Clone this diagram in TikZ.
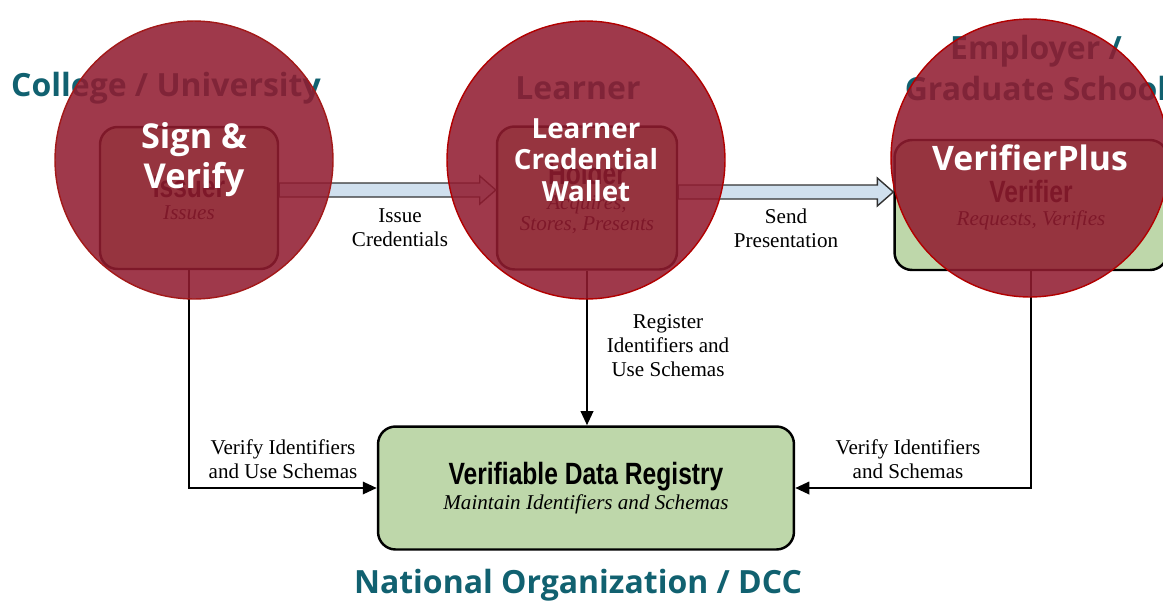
\documentclass[tikz,border=0pt]{standalone}
\usepackage{fontspec}
\setmainfont{Liberation Serif}
\newfontfamily\opensans{Open Sans}
\newfontfamily\narrowsans[FakeStretch=0.8]{Liberation Sans}
\usetikzlibrary{calc,arrows.meta}

\definecolor{boxgreen}{RGB}{190,215,170}
\definecolor{arrowblue}{RGB}{208,224,238}
\definecolor{titleteal}{RGB}{17,97,112}
\definecolor{circlered}{RGB}{145,28,48}

\tikzset{
  role/.style={draw=black,line width=1.4pt,rounded corners=10pt,fill=boxgreen,align=center},
  flowlabel/.style={align=center,font=\fontsize{12}{13.6}\selectfont},
  place/.style={text=titleteal,align=center,font=\opensans\bfseries\fontsize{18.2}{23.8}\selectfont},
  product/.style={circle,fill=circlered,fill opacity=0.87,text opacity=1,draw,line width=0.8pt,text=white,
    align=center,minimum size=5.56cm,inner sep=0pt,font=\opensans\bfseries},
  link/.style={draw=black,line width=1.4pt,-{Triangle[length=8pt,width=7pt]}},
  blockarrow/.style={draw=black!80,line width=0.8pt,fill=arrowblue}
}

\begin{document}
\begin{tikzpicture}[x=0.02cm,y=-0.02cm]

  \path[use as bounding box,clip] (0,0) rectangle (1163,606);

  \begin{scope}[every node/.style={role}]
    \node[minimum width=3.56cm,minimum height=2.84cm] (issuer) at (189,198)
      {\textbf{\narrowsans\fontsize{17.5}{19}\selectfont Issuer}\\[1pt] \fontsize{12}{14}\selectfont\itshape Issues};
    \node[minimum width=3.6cm,minimum height=2.86cm] (holder) at (587,198)
      {\textbf{\narrowsans\fontsize{17.5}{19}\selectfont Holder}\\[2pt] \fontsize{12}{14}\selectfont\itshape Acquires,\\ \fontsize{12}{14}\selectfont\itshape Stores, Presents};
    \node[minimum width=5.46cm,minimum height=2.6cm] (verifier) at (1031,205)
      {\textbf{\narrowsans\fontsize{17.5}{19}\selectfont Verifier}\\[1pt] \fontsize{12}{14}\selectfont\itshape Requests, Verifies};
    \node[minimum width=8.32cm,minimum height=2.46cm] (registry) at (586,488)
      {\textbf{\narrowsans\fontsize{17.5}{19}\selectfont Verifiable Data Registry}\\[1pt] \fontsize{12}{14}\selectfont\itshape Maintain Identifiers and Schemas};
  \end{scope}

  \coordinate (a1) at ($(issuer.east)+(0,-8)$);
  \coordinate (a2) at (holder.west |- a1);
  \coordinate (b1) at ($(holder.east)+(0,-6)$);
  \coordinate (b2) at (verifier.west |- b1);

  \draw[blockarrow] ($(a1)+(0,-7)$) -- ($(a2)+(-16,-7)$) -- ($(a2)+(-16,-14)$) -- (a2)
    -- ($(a2)+(-16,14)$) -- ($(a2)+(-16,7)$) -- ($(a1)+(0,7)$) -- cycle;
  \draw[blockarrow] ($(b1)+(0,-7)$) -- ($(b2)+(-16,-7)$) -- ($(b2)+(-16,-14)$) -- (b2)
    -- ($(b2)+(-16,14)$) -- ($(b2)+(-16,7)$) -- ($(b1)+(0,7)$) -- cycle;

  \draw[link] (issuer.south) |- (registry.west);
  \draw[link] (holder.south) -- (holder.south |- registry.north);
  \draw[link] (verifier.south) |- (registry.east);

  \begin{scope}[every node/.style={flowlabel}]
    \node (issuecred) at (400,228) {Issue\\Credentials};
    \node (sendpres)  at (786,228) {Send\\Presentation};
    \node (register)  at (668,346) {Register\\Identifiers and\\Use Schemas};
    \node (verifyuse) at (283,459) {Verify Identifiers\\and Use Schemas};
    \node (verifyid)  at (908,459) {Verify Identifiers\\and Schemas};
  \end{scope}

  \begin{scope}[every node/.style={place}]
    \node (college)  at (166,88)   {College / University};
    \node (learner)  at (578,88)   {Learner};
    \node (employer) at (1036,68)  {Employer /\\Graduate School};
    \node (national) at (578,585)  {National Organization / DCC};
  \end{scope}

  \node[product,draw=red!60!black!90,font=\opensans\bfseries\fontsize{19.5}{22.7}\selectfont] (sign) at (194,160)
    {Sign \&\\Verify};
  \node[product,draw=red!70!black,font=\opensans\bfseries\fontsize{15.8}{18}\selectfont] (wallet) at (586,160)
    {Learner\\Credential\\Wallet};
  \node[product,draw=red!70!black,font=\opensans\bfseries\fontsize{19.2}{20}\selectfont] (vplus) at (1030,158)
    {VerifierPlus};

\end{tikzpicture}
\end{document}
